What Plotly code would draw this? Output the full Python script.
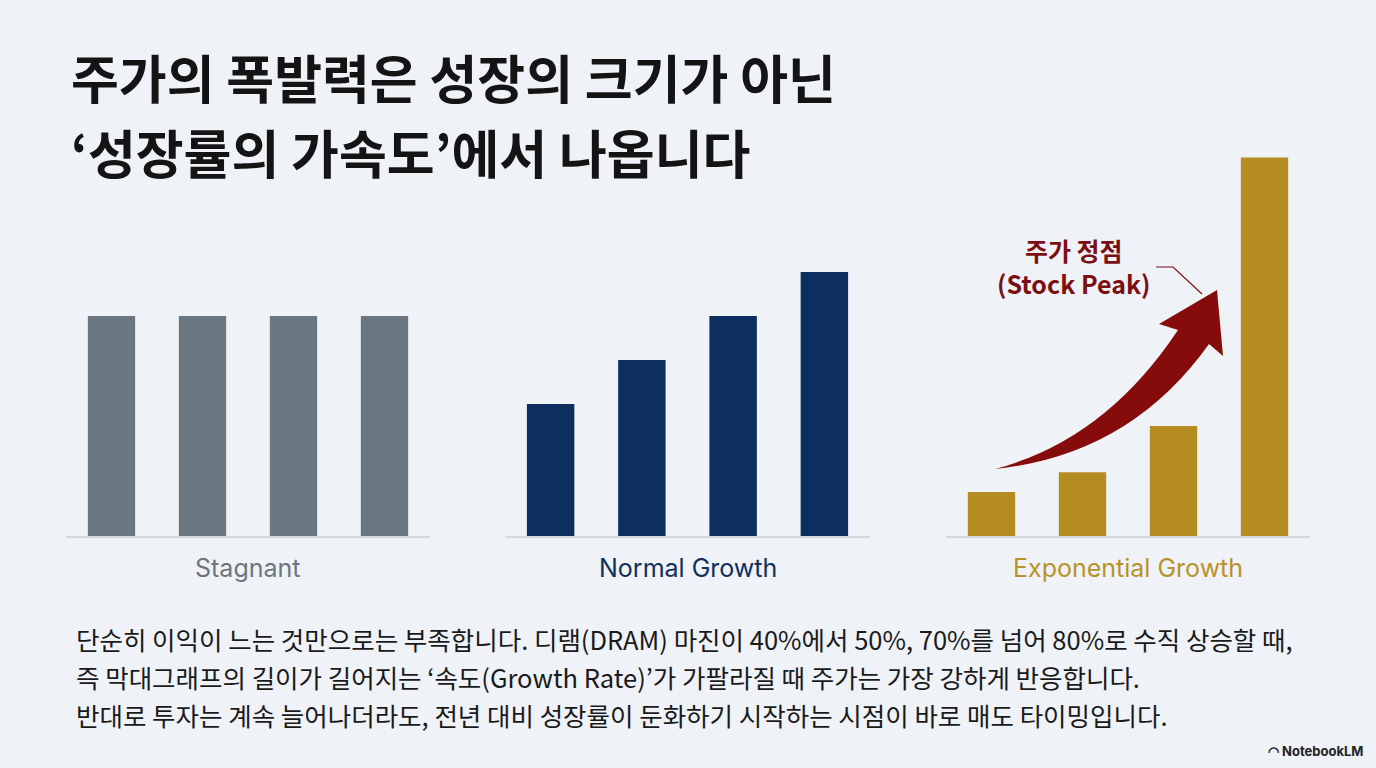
import plotly.graph_objects as go

W, H = 1376, 768

# 데이터
periods = [1, 2, 3, 4]
stagnant = [50, 50, 50, 50]
normal_growth = [30, 40, 50, 60]
exponential_growth = [10, 14.5, 25, 86]

group_names = ["Stagnant", "Normal Growth", "Exponential Growth"]
group_colors = ["#6a7780", "#0c2f5f", "#b48c22"]
label_colors = ["#6b7681", "#10305d", "#b8922a"]

title_lines = ["주가의 폭발력은 성장의 크기가 아닌", "‘성장률의 가속도’에서 나옵니다"]
body_lines = [
    "단순히 이익이 느는 것만으로는 부족합니다. 디램(DRAM) 마진이 40%에서 50%, 70%를 넘어 80%로 수직 상승할 때,",
    "즉 막대그래프의 길이가 길어지는 ‘속도(Growth Rate)’가 가팔라질 때 주가는 가장 강하게 반응합니다.",
    "반대로 투자는 계속 늘어나더라도, 전년 대비 성장률이 둔화하기 시작하는 시점이 바로 매도 타이밍입니다.",
]
peak_label = ["주가 정점", "(Stock Peak)"]


def px(x):
    return x / W


def py(y):
    return 1 - y / H


series = [stagnant, normal_growth, exponential_growth]
x_domains = [(66, 430), (505, 870), (946, 1310)]

fig = go.Figure()
for i, (vals, dom) in enumerate(zip(series, x_domains)):
    ax = "" if i == 0 else str(i + 1)
    fig.add_trace(go.Bar(
        x=periods, y=vals,
        marker=dict(color=group_colors[i], line=dict(width=0)),
        xaxis="x" + ax, yaxis="y" + ax,
        showlegend=False, hoverinfo="skip",
    ))
    fig.layout["xaxis" + ax] = dict(
        domain=[px(dom[0]), px(dom[1])], range=[0.5, 4.5],
        showgrid=False, zeroline=False, showticklabels=False,
        showline=True, linecolor="#d5d9de", linewidth=2, fixedrange=True,
        anchor="y" + ax,
    )
    fig.layout["yaxis" + ax] = dict(
        domain=[py(536), py(140)], range=[0, 90],
        showgrid=False, zeroline=False, showticklabels=False,
        showline=False, fixedrange=True, anchor="x" + ax,
    )
    fig.add_annotation(
        x=px((dom[0] + dom[1]) / 2), y=py(568), xref="paper", yref="paper",
        text=group_names[i], showarrow=False,
        font=dict(family="Inter, Noto Sans", size=25, color=label_colors[i]),
        xanchor="center", yanchor="middle",
    )

# 제목
for k, line in enumerate(title_lines):
    fig.add_annotation(
        x=px(69), y=py(77 + k * 74), xref="paper", yref="paper",
        text="<b>" + line + "</b>", showarrow=False,
        font=dict(family="Noto Sans CJK KR", size=52, color="#141414"),
        xanchor="left", yanchor="middle",
    )

# 본문
for k, line in enumerate(body_lines):
    fig.add_annotation(
        x=px(74), y=py(638 + k * 38), xref="paper", yref="paper",
        text=line, showarrow=False,
        font=dict(family="Noto Sans CJK KR", size=25.5, color="#1a1a1a"),
        xanchor="left", yanchor="middle",
    )

# 주가 정점 라벨
fig.add_annotation(
    x=px(1073), y=py(266), xref="paper", yref="paper",
    text="<b>" + "<br>".join(peak_label) + "</b>", showarrow=False,
    font=dict(family="Noto Sans CJK KR", size=25, color="#7c0f12"),
    xanchor="center", yanchor="middle", align="center",
)

# 곡선 화살표 (장식)
def pt(x, y):
    return f"{px(x):.5f},{py(y):.5f}"

arrow_path = (
    f"M {pt(995, 469)} "
    f"Q {pt(1105, 440)} {pt(1178, 330)} "
    f"L {pt(1159, 324)} "
    f"L {pt(1217, 290)} "
    f"L {pt(1223, 356)} "
    f"L {pt(1209, 344)} "
    f"Q {pt(1130, 455)} {pt(995, 469)} Z"
)
fig.add_shape(type="path", path=arrow_path, xref="paper", yref="paper",
              fillcolor="#860b0b", line=dict(width=0))
fig.add_shape(type="path", xref="paper", yref="paper",
              path=f"M {pt(1156, 267)} L {pt(1173, 267)} L {pt(1202, 294)}",
              line=dict(color="#7c0f12", width=1.2))

# 로고
fig.add_annotation(
    x=px(1365), y=py(751), xref="paper", yref="paper",
    text="<b>◠ NotebookLM</b>", showarrow=False,
    font=dict(family="Inter, Noto Sans", size=13, color="#222222"),
    xanchor="right", yanchor="middle",
)

fig.update_layout(
    width=W, height=H,
    margin=dict(l=0, r=0, t=0, b=0),
    paper_bgcolor="#eff2f6", plot_bgcolor="rgba(0,0,0,0)",
    bargap=0.48,
)

fig.write_html(
    "out.html",
    config={"displayModeBar": False},
    post_script="document.body.style.margin='0';document.body.style.overflow='hidden';",
)
